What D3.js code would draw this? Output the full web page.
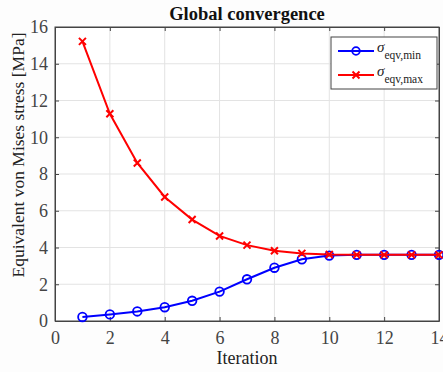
<!DOCTYPE html>
<html>
<head>
<meta charset="utf-8">
<script src="https://cdn.jsdelivr.net/npm/d3@7"></script>
<style>
  body { margin: 0; background: #fdfdfd; }
  svg { display: block; font-family: 'Liberation Serif', 'Times New Roman', serif; }
  svg text { font-family: 'Liberation Serif', 'Times New Roman', serif; }
</style>
</head>
<body>
<svg id="svg"></svg>
<script>
const iterations = [1, 2, 3, 4, 5, 6, 7, 8, 9, 10, 11, 12, 13, 14];
const sigmaMin = [0.22, 0.36, 0.52, 0.75, 1.1, 1.6, 2.27, 2.9, 3.36, 3.56, 3.6, 3.6, 3.6, 3.6];
const sigmaMax = [15.22, 11.28, 8.6, 6.75, 5.52, 4.63, 4.13, 3.82, 3.68, 3.62, 3.6, 3.6, 3.6, 3.6];
const xTicks = [0, 2, 4, 6, 8, 10, 12, 14];
const yTicks = [0, 2, 4, 6, 8, 10, 12, 14, 16];

const width = 443, height = 372;
const margin = { top: 27, right: 3, bottom: 51, left: 55 };

const svg = d3.select('#svg')
    .attr('width', width)
    .attr('height', height);

const x = d3.scaleLinear().domain([0, 14]).range([margin.left, width - margin.right - 1]);
const y = d3.scaleLinear().domain([0, 16]).range([height - margin.bottom, margin.top]);

// plot background
svg.append('rect')
    .attr('x', x(0)).attr('y', y(16))
    .attr('width', x(14) - x(0)).attr('height', y(0) - y(16))
    .attr('fill', '#fff');

// grid
svg.append('g')
    .selectAll('line')
    .data(xTicks.slice(1, -1))
    .join('line')
        .attr('x1', d => x(d)).attr('x2', d => x(d))
        .attr('y1', y(0)).attr('y2', y(16))
        .attr('stroke', '#e3e3e3');

svg.append('g')
    .selectAll('line')
    .data(yTicks.slice(1, -1))
    .join('line')
        .attr('x1', x(0)).attr('x2', x(14))
        .attr('y1', d => y(d)).attr('y2', d => y(d))
        .attr('stroke', '#e3e3e3');

// axes
const axisColor = '#454545';
svg.append('g')
    .attr('transform', `translate(0,${y(0)})`)
    .call(d3.axisBottom(x).tickValues(xTicks).tickSizeInner(-4).tickSizeOuter(0).tickPadding(10));
svg.append('g')
    .attr('transform', `translate(${x(0)},0)`)
    .call(d3.axisLeft(y).tickValues(yTicks).tickSizeInner(-4).tickSizeOuter(0).tickPadding(7));
// top and right ticks
svg.append('g')
    .attr('transform', `translate(0,${y(16)})`)
    .call(d3.axisTop(x).tickValues(xTicks).tickSizeInner(-4).tickSizeOuter(0).tickFormat(''));
svg.append('g')
    .attr('transform', `translate(${x(14)},0)`)
    .call(d3.axisRight(y).tickValues(yTicks).tickSizeInner(-4).tickSizeOuter(0).tickFormat(''));

svg.selectAll('.domain, .tick line').attr('stroke', axisColor);
svg.selectAll('g').attr('font-family', null);
svg.selectAll('.tick text')
    .style('font-family', "'Liberation Serif', serif")
    .style('font-size', '18px')
    .attr('fill', '#444');

// box
svg.append('rect')
    .attr('x', x(0)).attr('y', y(16))
    .attr('width', x(14) - x(0)).attr('height', y(0) - y(16))
    .attr('fill', 'none')
    .attr('stroke', axisColor);

// lines
const line = d3.line().x((d, i) => x(iterations[i])).y(d => y(d));
const blue = '#0000ff', red = '#ff0000';

svg.append('path')
    .datum(sigmaMin)
    .attr('d', line)
    .attr('fill', 'none')
    .attr('stroke', blue)
    .attr('stroke-width', 2);

svg.append('g')
    .selectAll('circle')
    .data(sigmaMin)
    .join('circle')
        .attr('cx', (d, i) => x(iterations[i]))
        .attr('cy', d => y(d))
        .attr('r', 4.3)
        .attr('fill', 'none')
        .attr('stroke', blue)
        .attr('stroke-width', 1.8);

svg.append('path')
    .datum(sigmaMax)
    .attr('d', line)
    .attr('fill', 'none')
    .attr('stroke', red)
    .attr('stroke-width', 2);

const cross = (g, cx, cy, s) => g.append('path')
    .attr('d', `M${cx - s},${cy - s}L${cx + s},${cy + s}M${cx - s},${cy + s}L${cx + s},${cy - s}`)
    .attr('stroke', red)
    .attr('stroke-width', 2);

const marks = svg.append('g');
sigmaMax.forEach((d, i) => cross(marks, x(iterations[i]), y(d), 3.5));

// title and labels
svg.append('text')
    .attr('x', 247).attr('y', 20)
    .attr('text-anchor', 'middle')
    .style('font-weight', 'bold')
    .style('font-size', '18.5px')
    .attr('fill', '#111')
    .text('Global convergence');

svg.append('text')
    .attr('x', (x(0) + x(14)) / 2).attr('y', 364)
    .attr('text-anchor', 'middle')
    .style('font-size', '18px')
    .attr('fill', '#222')
    .text('Iteration');

svg.append('text')
    .attr('transform', `translate(24,155) rotate(-90)`)
    .attr('text-anchor', 'middle')
    .style('font-size', '17.5px')
    .attr('fill', '#222')
    .text('Equivalent von Mises stress [MPa]');

// legend
const legend = svg.append('g').attr('transform', 'translate(331,37)');
legend.append('rect')
    .attr('width', 106).attr('height', 52)
    .attr('fill', '#fff')
    .attr('stroke', '#444');

const entries = [
    { sub: 'eqv,min', color: blue, marker: 'circle' },
    { sub: 'eqv,max', color: red, marker: 'cross' },
];
entries.forEach((e, i) => {
    const ly = 14 + i * 24;
    legend.append('line')
        .attr('x1', 7).attr('x2', 43)
        .attr('y1', ly).attr('y2', ly)
        .attr('stroke', e.color)
        .attr('stroke-width', 2);
    if (e.marker === 'circle') {
        legend.append('circle')
            .attr('cx', 25).attr('cy', ly).attr('r', 3.8)
            .attr('fill', 'none').attr('stroke', e.color).attr('stroke-width', 1.8);
    } else {
        cross(legend, 25, ly, 3.5);
    }
    const t = legend.append('text')
        .attr('x', 46).attr('y', ly + 1)
        .style('font-size', '15px')
        .attr('fill', '#222');
    t.append('tspan').style('font-style', 'italic').text('σ');
    t.append('tspan').attr('dy', 7).style('font-size', '11.5px').text(e.sub);
});
</script>
</body>
</html>
